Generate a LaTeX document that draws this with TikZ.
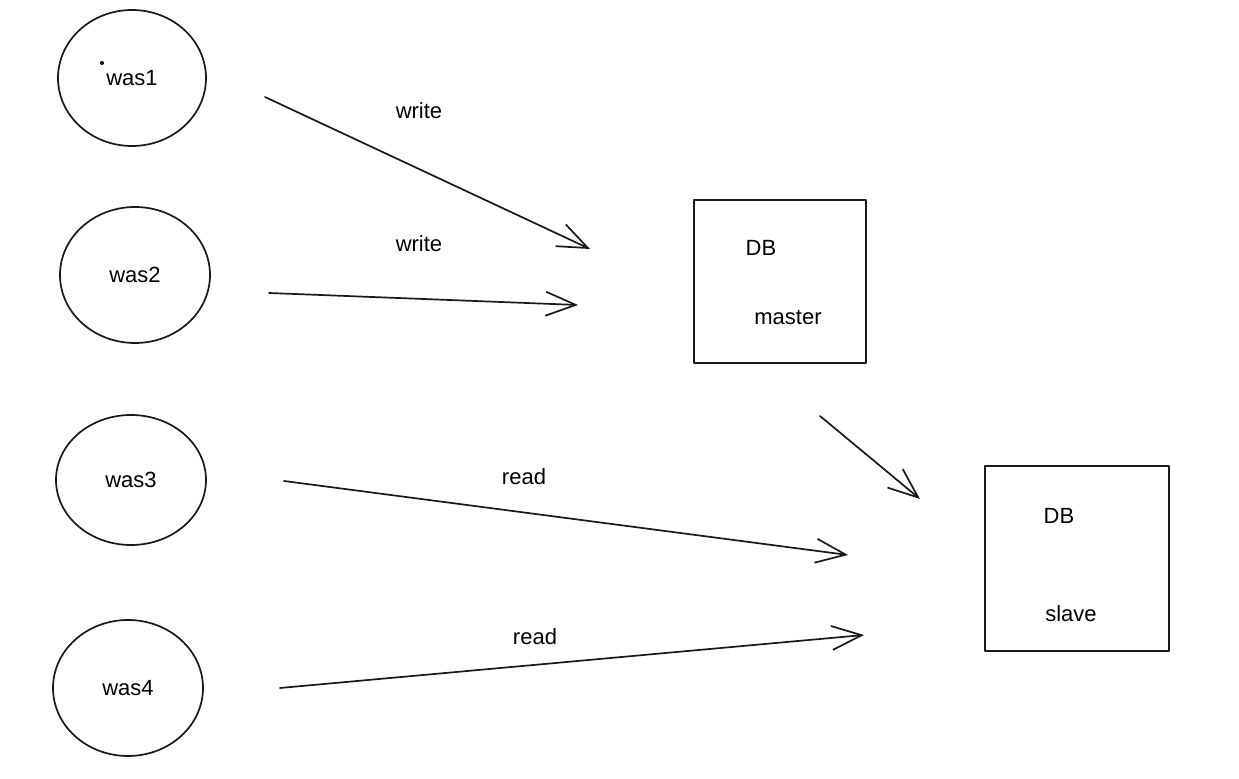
\documentclass[tikz,border=0pt]{standalone}
\usepackage{fontspec}
\setmainfont{Liberation Sans}
\usetikzlibrary{arrows.meta,shapes.geometric}
\begin{document}
\begin{tikzpicture}[x=0.5pt,y=-0.5pt,
  sketch/.style={line width=0.85pt, draw=black!90, line cap=round, line join=round},
  server/.style={sketch, ellipse, inner sep=0pt, font=\fontsize{11}{13}\selectfont},
  dbbox/.style={sketch, rectangle, inner sep=0pt},
  lbl/.style={font=\fontsize{11}{13}\selectfont, inner sep=1pt},
  flow/.style={sketch, -{Straight Barb[length=15pt,width=12pt,line width=0.85pt]}}]
\useasboundingbox (0,0) rectangle (1239,779);
% servers
\node[server, minimum width=74pt, minimum height=68pt] (was1) at (132,78) {was1};
\node[server, minimum width=75pt, minimum height=68pt] (was2) at (135,275) {was2};
\node[server, minimum width=75pt, minimum height=65pt] (was3) at (131,480) {was3};
\node[server, minimum width=75pt, minimum height=68pt] (was4) at (128,688) {was4};
\fill (102,63) circle [radius=2];
% db boxes
\node[dbbox, minimum width=86pt, minimum height=81.5pt] (master box) at (780,281.5) {};
\node[lbl] (dbm) at (761,248) {DB};
\node[lbl] (master) at (788,318) {master};
\node[dbbox, minimum width=92pt, minimum height=92.5pt] (slave box) at (1077,558.5) {};
\node[lbl] (dbs) at (1059,516) {DB};
\node[lbl] (slave) at (1071,614) {slave};
% arrow endpoints
\coordinate (a1s) at (265,97);  \coordinate (a1e) at (590,249);
\coordinate (a2s) at (269,293); \coordinate (a2e) at (578,305);
\coordinate (a3s) at (284,481); \coordinate (a3e) at (848,555);
\coordinate (a4s) at (280,688); \coordinate (a4e) at (864,635);
\coordinate (a5s) at (820,416); \coordinate (a5e) at (920,499);
\draw[flow] (a1s) -- (a1e);
\draw[flow] (a2s) -- (a2e);
\draw[flow] (a3s) -- (a3e);
\draw[flow] (a4s) -- (a4e);
\draw[flow] (a5s) -- (a5e);
% labels
\node[lbl] (w1) at (419,111) {write};
\node[lbl] (w2) at (419,244) {write};
\node[lbl] (r1) at (524,477) {read};
\node[lbl] (r2) at (535,637) {read};
\end{tikzpicture}
\end{document}
